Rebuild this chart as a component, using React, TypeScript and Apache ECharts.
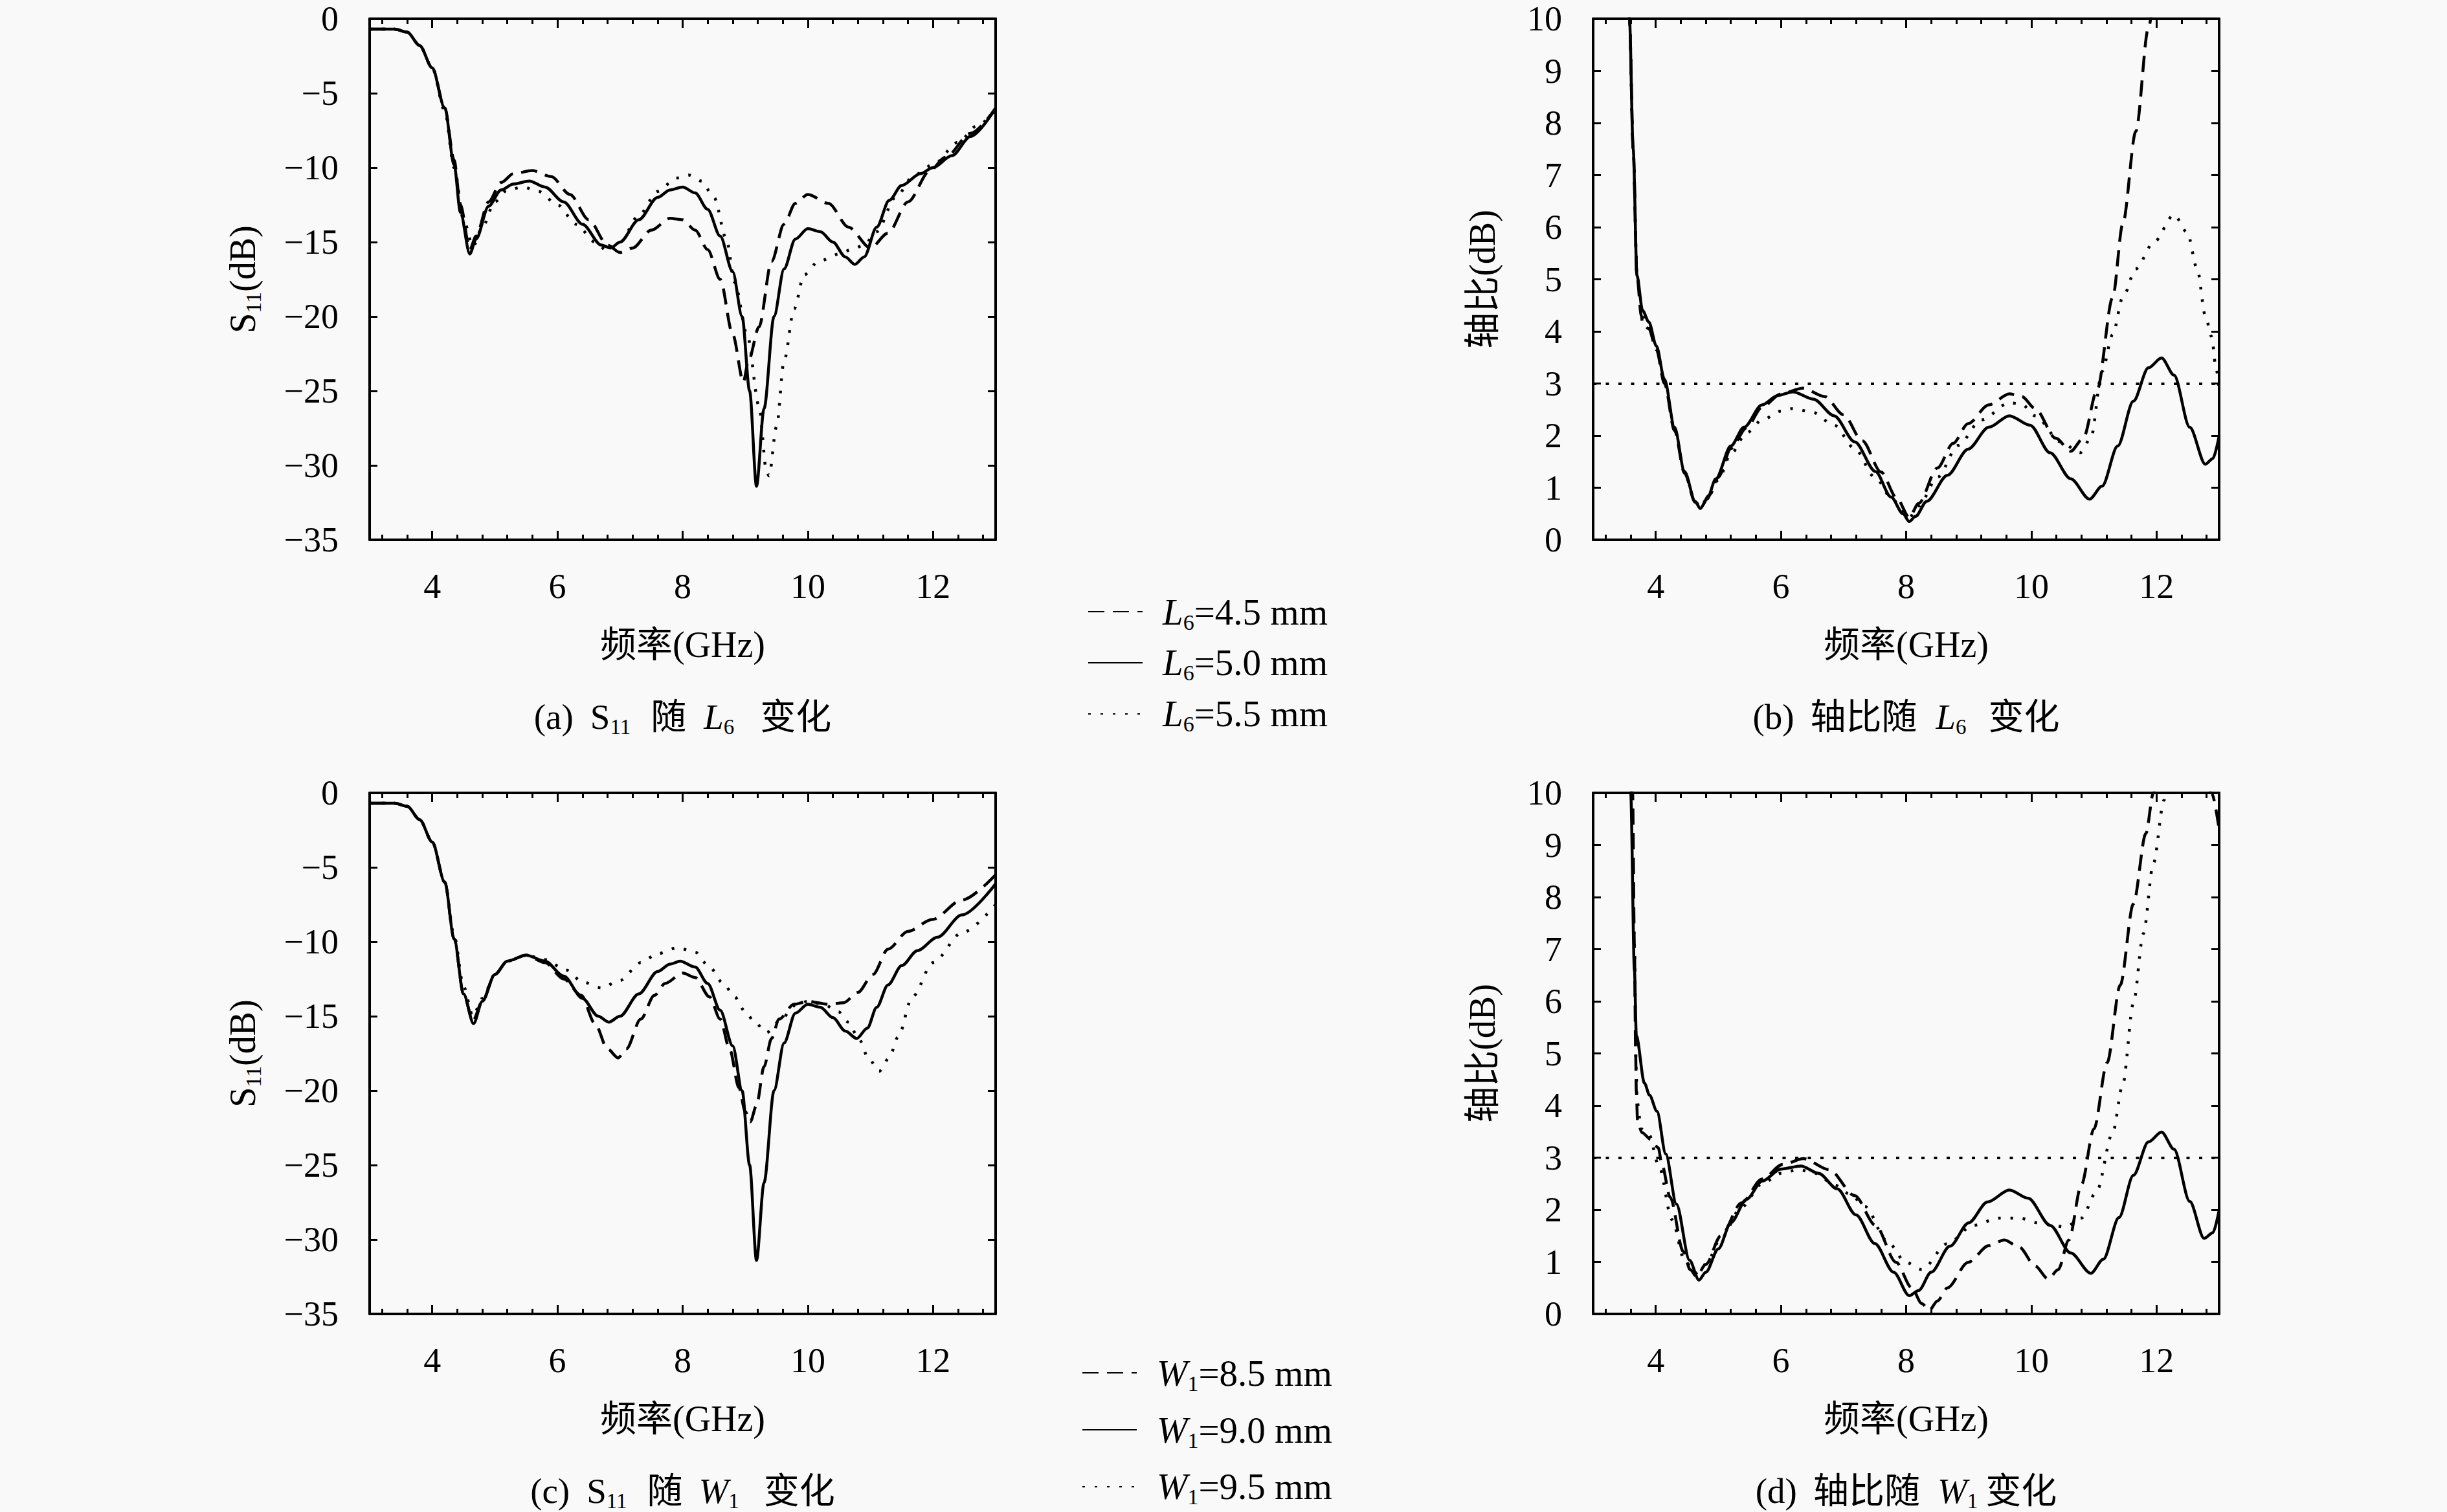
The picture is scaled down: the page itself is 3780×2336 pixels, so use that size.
import React, { useEffect, useRef } from 'react';
import * as echarts from 'echarts';

const FONT = "'Liberation Serif', 'Noto Sans CJK SC', serif";
const BLACK = '#000';

// ---------- axis ticks ----------
const X_MAJOR = [4, 6, 8, 10, 12];
const X_MINOR = [3.2, 3.6, 4.4, 4.8, 5.2, 5.6, 6.4, 6.8, 7.2, 7.6, 8.4, 8.8, 9.2, 9.6, 10.4, 10.8, 11.2, 11.6, 12.4, 12.8];
const X_RANGE = [3, 13];
const S11_RANGE = [-35, 0, 5];
const AR_RANGE = [0, 10, 1];
const AR_LIMIT = 3;

// ---------- (a) S11 vs L6 ----------
const aL45: number[][] = [[3.0,-0.7],[3.4,-0.7],[3.6,-0.9],[3.8,-1.8],[4.0,-3.3],[4.2,-6.0],[4.35,-9.5],[4.45,-12.5],[4.6,-15.5],[4.7,-14.6],[4.9,-12.3],[5.1,-11.0],[5.3,-10.4],[5.6,-10.2],[5.9,-10.6],[6.2,-11.8],[6.5,-13.5],[6.8,-15.2],[7.0,-15.7],[7.2,-15.4],[7.5,-14.2],[7.8,-13.4],[8.0,-13.5],[8.2,-14.2],[8.4,-15.5],[8.6,-17.5],[8.8,-21.2],[8.97,-24.4],[9.05,-23.0],[9.22,-20.7],[9.42,-16.3],[9.62,-13.8],[9.8,-12.4],[10.0,-11.8],[10.33,-12.4],[10.65,-14.0],[11.0,-15.4],[11.28,-14.4],[11.6,-12.3],[11.95,-10.2],[12.2,-9.3],[12.6,-7.7],[13.0,-6.0]];
const aL50: number[][] = [[3.0,-0.7],[3.4,-0.7],[3.6,-0.9],[3.8,-1.8],[4.0,-3.3],[4.2,-6.0],[4.35,-9.8],[4.45,-13.0],[4.6,-15.8],[4.7,-14.8],[4.9,-12.6],[5.1,-11.5],[5.3,-11.1],[5.55,-10.9],[5.8,-11.3],[6.1,-12.3],[6.4,-13.8],[6.7,-15.2],[6.85,-15.4],[7.0,-15.0],[7.3,-13.5],[7.6,-12.0],[7.8,-11.5],[8.0,-11.3],[8.2,-11.7],[8.4,-12.8],[8.6,-14.6],[8.8,-17.0],[8.95,-20.0],[9.07,-25.0],[9.18,-31.4],[9.3,-26.2],[9.46,-20.0],[9.62,-16.8],[9.8,-14.8],[10.0,-14.1],[10.2,-14.3],[10.4,-15.0],[10.6,-16.0],[10.75,-16.5],[10.9,-16.0],[11.1,-14.0],[11.3,-12.2],[11.5,-11.2],[11.8,-10.4],[12.0,-10.0],[12.3,-9.2],[12.6,-7.9],[13.0,-6.0]];
const aL55: number[][] = [[3.0,-0.7],[3.4,-0.7],[3.6,-0.9],[3.8,-1.8],[4.0,-3.3],[4.2,-6.2],[4.35,-10.0],[4.5,-13.5],[4.65,-15.3],[4.8,-14.0],[5.0,-12.3],[5.2,-11.5],[5.45,-11.3],[5.7,-11.6],[6.0,-12.5],[6.3,-13.8],[6.6,-15.0],[6.8,-15.6],[7.0,-15.0],[7.3,-13.2],[7.6,-11.6],[7.9,-10.7],[8.1,-10.5],[8.3,-10.9],[8.5,-12.0],[8.7,-14.8],[8.83,-17.7],[9.03,-21.2],[9.22,-26.0],[9.34,-30.4],[9.38,-30.7],[9.5,-27.4],[9.62,-23.0],[9.78,-19.5],[9.94,-17.2],[10.17,-16.3],[10.5,-15.8],[10.7,-15.5],[10.9,-15.2],[11.1,-14.3],[11.4,-12.0],[11.7,-10.5],[12.0,-9.8],[12.4,-8.3],[12.7,-7.2],[13.0,-6.1]];

// ---------- (b) axial ratio vs L6 ----------
const bL45: number[][] = [[3.5,13],[3.58,10],[3.64,7.5],[3.7,5.07],[3.77,4.3],[3.79,4.15],[3.89,4.05],[4.01,3.65],[4.14,3.0],[4.3,2.1],[4.46,1.28],[4.63,0.72],[4.72,0.62],[4.85,0.85],[5.0,1.2],[5.2,1.75],[5.45,2.15],[5.7,2.55],[6.0,2.8],[6.35,2.91],[6.7,2.75],[7.0,2.4],[7.3,1.9],[7.6,1.3],[7.85,0.8],[8.05,0.43],[8.2,0.7],[8.5,1.38],[8.75,1.85],[8.99,2.23],[9.32,2.59],[9.65,2.8],[9.85,2.75],[10.06,2.52],[10.39,1.95],[10.63,1.7],[10.83,1.95],[11.05,2.87],[11.3,4.65],[11.46,6.06],[11.67,7.84],[11.87,9.82],[12.0,11]];
const bL50: number[][] = [[3.5,13],[3.58,10],[3.64,7.5],[3.7,5.07],[3.79,4.4],[3.89,4.18],[4.01,3.72],[4.14,3.08],[4.3,2.16],[4.46,1.31],[4.63,0.74],[4.71,0.6],[4.82,0.78],[4.96,1.17],[5.2,1.8],[5.41,2.16],[5.7,2.59],[5.95,2.77],[6.19,2.84],[6.52,2.7],[6.85,2.38],[7.18,1.88],[7.51,1.31],[7.76,0.82],[7.95,0.5],[8.05,0.35],[8.15,0.45],[8.33,0.74],[8.66,1.24],[8.99,1.74],[9.32,2.16],[9.65,2.38],[9.98,2.2],[10.3,1.67],[10.63,1.17],[10.93,0.78],[11.13,1.03],[11.38,1.8],[11.63,2.66],[11.87,3.3],[12.08,3.49],[12.28,3.16],[12.53,2.16],[12.78,1.45],[12.9,1.56],[13.0,1.99]];
const bL55: number[][] = [[3.5,13],[3.58,10],[3.64,7.5],[3.7,5.07],[3.79,4.3],[3.89,4.1],[4.01,3.68],[4.14,3.05],[4.3,2.12],[4.46,1.3],[4.63,0.74],[4.71,0.62],[4.85,0.85],[5.0,1.15],[5.2,1.65],[5.45,2.05],[5.7,2.3],[6.0,2.47],[6.19,2.52],[6.5,2.45],[6.85,2.2],[7.18,1.75],[7.5,1.2],[7.8,0.75],[8.05,0.43],[8.2,0.65],[8.5,1.2],[8.83,1.81],[9.2,2.3],[9.65,2.63],[9.85,2.6],[10.06,2.38],[10.47,1.88],[10.78,1.67],[10.95,1.95],[11.13,3.23],[11.3,3.94],[11.46,4.65],[11.67,5.2],[11.95,5.7],[12.28,6.24],[12.49,5.9],[12.65,5.2],[12.78,4.3],[12.88,3.9],[12.95,3.3],[13.0,2.9]];

// ---------- (c) S11 vs W1 ----------
const cW85: number[][] = [[3.0,-0.7],[3.4,-0.7],[3.6,-0.9],[3.8,-1.8],[4.0,-3.3],[4.2,-6.0],[4.35,-9.8],[4.5,-13.5],[4.65,-15.3],[4.8,-14.0],[5.0,-12.2],[5.2,-11.3],[5.5,-10.9],[5.8,-11.4],[6.1,-12.5],[6.38,-13.6],[6.6,-15.5],[6.8,-17.2],[6.97,-17.8],[7.1,-17.2],[7.33,-15.2],[7.55,-13.6],[7.72,-12.8],[8.0,-12.1],[8.2,-12.4],[8.43,-13.7],[8.6,-15.2],[8.75,-17.2],[8.9,-19.8],[9.0,-21.4],[9.08,-22.1],[9.18,-21.0],[9.3,-18.4],[9.42,-16.5],[9.54,-15.2],[9.78,-14.2],[10.0,-14.0],[10.33,-14.2],[10.57,-14.1],[10.8,-13.4],[11.04,-12.2],[11.28,-10.5],[11.6,-9.3],[11.99,-8.5],[12.46,-7.2],[13.0,-5.5]];
const cW90: number[][] = [[3.0,-0.7],[3.4,-0.7],[3.6,-0.9],[3.8,-1.8],[4.0,-3.3],[4.2,-6.0],[4.35,-9.8],[4.5,-13.5],[4.66,-15.5],[4.8,-14.0],[5.0,-12.2],[5.2,-11.3],[5.5,-10.9],[5.8,-11.3],[6.1,-12.3],[6.4,-13.8],[6.65,-15.0],[6.82,-15.4],[7.0,-15.0],[7.3,-13.5],[7.6,-12.0],[7.8,-11.5],[7.96,-11.3],[8.2,-11.7],[8.4,-12.8],[8.6,-14.6],[8.8,-17.0],[8.95,-20.0],[9.07,-25.0],[9.18,-31.4],[9.3,-26.2],[9.46,-20.0],[9.62,-16.8],[9.8,-14.8],[10.0,-14.2],[10.2,-14.4],[10.4,-15.1],[10.6,-16.0],[10.78,-16.5],[10.95,-15.8],[11.1,-14.4],[11.28,-12.9],[11.5,-11.6],[11.75,-10.6],[12.07,-9.7],[12.46,-8.2],[13.0,-6.1]];
const cW95: number[][] = [[3.0,-0.7],[3.4,-0.7],[3.6,-0.9],[3.8,-1.8],[4.0,-3.3],[4.2,-6.0],[4.35,-9.6],[4.5,-13.0],[4.65,-15.0],[4.8,-13.8],[5.0,-12.2],[5.2,-11.3],[5.5,-10.9],[5.8,-11.2],[6.14,-11.9],[6.4,-12.7],[6.7,-13.1],[7.0,-12.6],[7.33,-11.4],[7.6,-10.8],[7.92,-10.4],[8.2,-10.7],[8.43,-11.7],[8.65,-12.8],[8.83,-13.7],[9.0,-14.7],[9.15,-15.4],[9.34,-16.1],[9.58,-15.2],[9.78,-14.3],[10.0,-14.0],[10.25,-14.2],[10.49,-14.7],[10.65,-15.4],[10.8,-16.4],[10.98,-17.9],[11.14,-18.7],[11.3,-17.8],[11.44,-16.4],[11.67,-13.7],[12.0,-11.4],[12.46,-9.4],[13.0,-7.5]];

// ---------- (d) axial ratio vs W1 ----------
const dW85: number[][] = [[3.55,13],[3.63,10],[3.66,7.0],[3.68,4.93],[3.69,4.26],[3.71,3.69],[3.78,3.48],[3.92,3.35],[4.04,3.19],[4.1,2.86],[4.23,2.24],[4.44,1.2],[4.55,0.85],[4.65,0.72],[4.8,0.95],[5.04,1.5],[5.37,2.13],[5.7,2.59],[6.03,2.87],[6.36,2.98],[6.77,2.77],[7.18,2.27],[7.51,1.7],[7.84,0.99],[8.09,0.5],[8.25,0.2],[8.37,0.07],[8.5,0.25],[8.66,0.5],[8.99,0.99],[9.32,1.31],[9.57,1.42],[9.81,1.28],[10.06,0.92],[10.27,0.67],[10.43,0.85],[10.6,1.42],[10.8,2.48],[11.0,3.55],[11.21,4.82],[11.42,6.31],[11.63,7.87],[11.83,9.22],[11.95,10],[12.1,11.5],[12.5,13],[12.88,10],[13.0,9.3]];
const dW90: number[][] = [[3.5,13],[3.6,10],[3.66,6.58],[3.69,5.34],[3.82,4.43],[3.9,4.2],[4.02,3.89],[4.16,3.07],[4.33,2.11],[4.54,1.03],[4.69,0.65],[4.8,0.8],[5.0,1.25],[5.2,1.75],[5.45,2.2],[5.7,2.55],[6.0,2.78],[6.32,2.84],[6.6,2.7],[6.9,2.4],[7.2,1.9],[7.5,1.35],[7.8,0.8],[8.05,0.35],[8.2,0.45],[8.4,0.8],[8.7,1.3],[9.0,1.75],[9.3,2.15],[9.65,2.38],[9.95,2.22],[10.3,1.7],[10.63,1.17],[10.95,0.78],[11.15,1.05],[11.4,1.85],[11.63,2.66],[11.87,3.3],[12.08,3.49],[12.28,3.16],[12.53,2.16],[12.76,1.45],[12.9,1.56],[13.0,1.99]];
const dW95: number[][] = [[3.55,13],[3.62,10],[3.66,7.0],[3.69,4.6],[3.7,4.1],[3.77,3.55],[3.89,3.45],[4.05,2.84],[4.26,1.81],[4.46,1.03],[4.63,0.78],[4.8,0.95],[5.04,1.45],[5.37,2.05],[5.7,2.5],[6.0,2.7],[6.28,2.77],[6.55,2.7],[6.85,2.48],[7.1,2.3],[7.35,2.06],[7.68,1.42],[8.0,0.99],[8.25,0.85],[8.66,1.35],[9.07,1.7],[9.49,1.84],[9.81,1.84],[10.14,1.74],[10.55,1.67],[10.8,1.84],[11.04,2.34],[11.3,3.48],[11.46,4.4],[11.63,5.96],[11.79,7.3],[11.95,8.65],[12.12,9.86],[12.2,11]];

const L_NAMES = ['L6=4.5 mm', 'L6=5.0 mm', 'L6=5.5 mm'];
const W_NAMES = ['W1=8.5 mm', 'W1=9.0 mm', 'W1=9.5 mm'];

const DASH = [25, 13];
const DOT = [4, 15];
const STYLES: any[] = [DASH, 'solid', DOT];

const GW = 967;
const GH = 805;
const PANELS = [
  { left: 571, top: 29, kind: 's11', names: L_NAMES, data: [aL45, aL50, aL55], cap: '{n|(a)}{p26|S}{s|11}{p31|随}{ip27|L}{s|6}{p40|变化}' },
  { left: 2461, top: 29, kind: 'ar', names: L_NAMES, data: [bL45, bL50, bL55], cap: '{n|(b)}{p25|轴比随}{ip29|L}{s|6}{p34|变化}' },
  { left: 571, top: 1225, kind: 's11', names: W_NAMES, data: [cW85, cW90, cW95], cap: '{n|(c)}{p26|S}{s|11}{p31|随}{ip25|W}{s|1}{p38|变化}' },
  { left: 2461, top: 1225, kind: 'ar', names: W_NAMES, data: [dW85, dW90, dW95], cap: '{n|(d)}{p25|轴比随}{ip27|W}{s|1}{p12|变化}' },
];

const FS = 55;
const N = { fontFamily: FONT, fontSize: FS, lineHeight: 62, color: BLACK, fill: BLACK, verticalAlign: 'middle' };
const I = { ...N, fontStyle: 'italic' };
const S = { fontFamily: FONT, fontSize: 33, lineHeight: 30, padding: [32, 0, 0, 0], color: BLACK, fill: BLACK, verticalAlign: 'middle' };
const padL = (st: any, p: number) => ({ ...st, padding: [0, 0, 0, p] });
const capRich: any = {
  n: N, s: S,
  p12: padL(N, 12), p25: padL(N, 25), p26: padL(N, 26), p31: padL(N, 31), p34: padL(N, 34), p38: padL(N, 38), p40: padL(N, 40),
  ip25: padL(I, 25), ip27: padL(I, 27), ip29: padL(I, 29),
};
const legendRich = {
  n: { ...N, fontSize: 57 },
  i: { ...I, fontSize: 57, padding: [0, 0, 0, 26] },
  s: { ...S, fontSize: 34 },
};

function buildOption() {
  const grid: any[] = [];
  const xAxis: any[] = [];
  const yAxis: any[] = [];
  const series: any[] = [];
  const graphic: any[] = [];

  PANELS.forEach((p, g) => {
    grid.push({ left: p.left, top: p.top, width: GW, height: GH, containLabel: false });
    const base = { gridIndex: g, type: 'value', min: X_RANGE[0], max: X_RANGE[1], splitLine: { show: false } };
    const lineOn = { show: true, onZero: false, lineStyle: { color: BLACK, width: 4 } };
    const lineOff = { show: false, onZero: false };
    const tk = (vals: number[], len: number) => ({ show: true, inside: true, length: len, customValues: vals, lineStyle: { color: BLACK, width: 3 } });
    xAxis.push({
      ...base, position: 'bottom', axisLine: lineOn, axisTick: tk(X_MAJOR, 14),
      axisLabel: { show: true, customValues: X_MAJOR, fontFamily: FONT, fontSize: 54, color: BLACK, margin: 42, lineHeight: 60 },
      name: '频率(GHz)', nameLocation: 'middle', nameGap: 131,
      nameTextStyle: { fontFamily: FONT, fontSize: 56, color: BLACK, lineHeight: 62 },
    });
    xAxis.push({ ...base, position: 'bottom', axisLine: lineOff, axisTick: tk(X_MINOR, 8), axisLabel: { show: false } });
    xAxis.push({ ...base, position: 'top', axisLine: lineOn, axisTick: tk(X_MAJOR, 14), axisLabel: { show: false } });
    xAxis.push({ ...base, position: 'top', axisLine: lineOff, axisTick: tk(X_MINOR, 8), axisLabel: { show: false } });

    const r = p.kind === 's11' ? S11_RANGE : AR_RANGE;
    const yBase = { gridIndex: g, type: 'value', min: r[0], max: r[1], interval: r[2], splitLine: { show: false } };
    const ytk = { show: true, inside: true, length: 12, lineStyle: { color: BLACK, width: 3 } };
    yAxis.push({
      ...yBase, position: 'left', axisLine: lineOn, axisTick: ytk,
      axisLabel: {
        show: true, fontFamily: FONT, fontSize: 54, color: BLACK, margin: 48,
        formatter: (v: number) => (v < 0 ? '\u2212' + Math.abs(v) : String(v)),
      },
      name: p.kind === 's11' ? '{n|S}{s|11}{n|(dB)}' : '{n|轴比(dB)}',
      nameLocation: 'middle', nameRotate: 90, nameGap: p.kind === 's11' ? 165 : 140,
      nameTextStyle: { fontFamily: FONT, fontSize: 56, color: BLACK, rich: {
        n: { ...N, fontSize: 56 }, s: { ...S, fontSize: 34 },
      } },
    });
    yAxis.push({ ...yBase, position: 'right', axisLine: lineOn, axisTick: ytk, axisLabel: { show: false } });

    p.data.forEach((d, k) => {
      const s: any = {
        name: p.names[k], type: 'line', xAxisIndex: g * 4, yAxisIndex: g * 2, data: d,
        symbol: 'none', showSymbol: false, smooth: 0.3, smoothMonotone: 'x', clip: true,
        lineStyle: { color: BLACK, width: 4.5, type: STYLES[k], cap: 'butt' },
        itemStyle: { color: BLACK }, z: 3 + k,
      };
      if (p.kind === 'ar' && k === 1) {
        s.markLine = {
          silent: true, symbol: ['none', 'none'], label: { show: false }, animation: false,
          lineStyle: { color: BLACK, width: 4, type: [5, 14.5], cap: 'butt' },
          emphasis: { disabled: true },
          data: [{ yAxis: AR_LIMIT }],
        };
      }
      series.push(s);
    });

    graphic.push({
      type: 'text', x: p.left + GW / 2, y: p.top + GH + 273,
      style: { text: p.cap, rich: capRich, align: 'center', verticalAlign: 'middle', fill: BLACK, fontFamily: FONT, fontSize: FS },
    });
  });

  const legendFmt = (name: string) => {
    const m = name.match(/^([LW])(\d)=(.*)$/);
    if (!m) return name;
    return `{i|${m[1]}}{s|${m[2]}}{n|=${m[3]}}`;
  };
  const legendBase = {
    orient: 'vertical', padding: 0, itemWidth: 84, itemHeight: 14, selectedMode: false, height: 400,
    itemStyle: { opacity: 0 },
    formatter: legendFmt, textStyle: { color: BLACK, fontFamily: FONT, fontSize: 57, rich: legendRich },
  };
  const legend = [
    { ...legendBase, data: L_NAMES, left: 1680, top: 943 - 31, itemGap: 13 },
    { ...legendBase, data: W_NAMES, left: 1671, top: 2119 - 31, itemGap: 22 },
  ];

  return {
    animation: false,
    backgroundColor: '#f9f9f9',
    grid, xAxis, yAxis, series, legend, graphic,
  };
}

export default function App() {
  const ref = useRef<HTMLDivElement>(null);
  useEffect(() => {
    document.body.style.margin = '0';
    if (!ref.current) return;
    const chart = echarts.init(ref.current, undefined, { renderer: 'svg' });
    chart.setOption(buildOption() as any);
    return () => chart.dispose();
  }, []);
  return <div ref={ref} style={{ width: 3780, height: 2336 }} />;
}
